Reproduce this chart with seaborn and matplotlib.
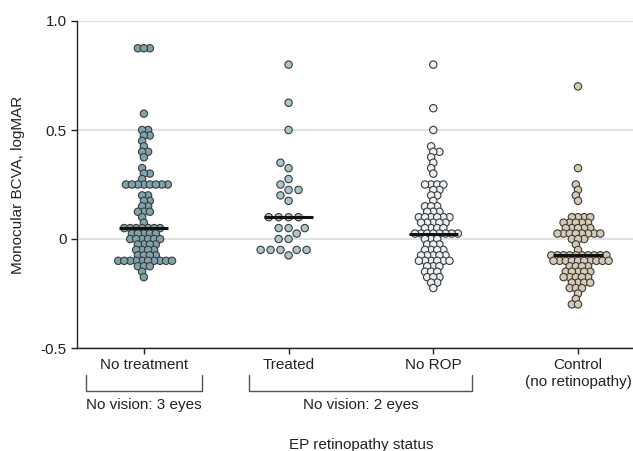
import matplotlib
matplotlib.use("Agg")
import matplotlib.pyplot as plt
import matplotlib.transforms as mtransforms
import seaborn as sns
import numpy as np
import pandas as pd

# ---------------- data ----------------
categories = ["No treatment", "Treated", "No ROP", "Control\n(no retinopathy)"]

no_treatment = [0.875, 0.875, 0.875, 0.575, 0.5, 0.5, 0.475, 0.475, 0.45, 0.425,
                0.4, 0.4, 0.375, 0.325, 0.3, 0.3, 0.275,
                0.25, 0.25, 0.25, 0.25, 0.25, 0.25, 0.25, 0.25,
                0.2, 0.2, 0.175, 0.175, 0.15, 0.15, 0.125, 0.125, 0.125, 0.1, 0.075,
                0.05, 0.05, 0.05, 0.05, 0.05, 0.05, 0.05,
                0.025, 0.025, 0.025, 0.025, 0.025,
                0.0, 0.0, 0.0, 0.0, 0.0, 0.0,
                -0.025, -0.025, -0.025, -0.025,
                -0.05, -0.05, -0.05, -0.05,
                -0.075, -0.075, -0.075, -0.075,
                -0.1, -0.1, -0.1, -0.1, -0.1, -0.1, -0.1, -0.1, -0.1, -0.1,
                -0.125, -0.125, -0.125, -0.15, -0.175]

treated = [0.8, 0.625, 0.5, 0.35, 0.325, 0.275, 0.25, 0.225, 0.225, 0.2, 0.175,
           0.1, 0.1, 0.1, 0.1, 0.05, 0.05, 0.05, 0.025, 0.0, 0.0,
           -0.05, -0.05, -0.05, -0.05, -0.05, -0.075]

no_rop = [0.8, 0.6, 0.5, 0.425, 0.4, 0.4, 0.375, 0.35, 0.325, 0.3,
          0.25, 0.25, 0.25, 0.25, 0.225, 0.225, 0.2, 0.2, 0.175,
          0.15, 0.15, 0.15, 0.125, 0.125, 0.125,
          0.1, 0.1, 0.1, 0.1, 0.1, 0.1,
          0.075, 0.075, 0.075, 0.075, 0.075,
          0.05, 0.05, 0.05, 0.05,
          0.025, 0.025, 0.025, 0.025, 0.025, 0.025, 0.025, 0.025,
          0.0, 0.0, 0.0, -0.025, -0.025, -0.025,
          -0.05, -0.05, -0.05, -0.05,
          -0.075, -0.075, -0.075, -0.075, -0.075,
          -0.1, -0.1, -0.1, -0.1, -0.1, -0.1,
          -0.125, -0.125, -0.125, -0.15, -0.15, -0.15,
          -0.175, -0.175, -0.175, -0.2, -0.2, -0.225]

control = [0.7, 0.325, 0.25, 0.225, 0.2, 0.175,
           0.1, 0.1, 0.1, 0.1, 0.075, 0.075, 0.075, 0.075, 0.075,
           0.05, 0.05, 0.05, 0.05, 0.05,
           0.025, 0.025, 0.025, 0.025, 0.025, 0.025, 0.025, 0.025,
           0.0, 0.0, 0.0, -0.025, -0.05,
           -0.075, -0.075, -0.075, -0.075, -0.075, -0.075, -0.075, -0.075, -0.075, -0.075,
           -0.1, -0.1, -0.1, -0.1, -0.1, -0.1, -0.1, -0.1, -0.1, -0.1,
           -0.125, -0.125, -0.125, -0.125,
           -0.15, -0.15, -0.15, -0.15, -0.15,
           -0.175, -0.175, -0.175, -0.175, -0.175,
           -0.2, -0.2, -0.2, -0.2, -0.225, -0.225, -0.225,
           -0.25, -0.275, -0.3, -0.3]

groups = [no_treatment, treated, no_rop, control]
colors = ["#7fa3ad", "#aac5cf", "#eaf0f3", "#d6cab4"]

y_ticks = [-0.5, 0, 0.5, 1.0]
y_tick_labels = ["-0.5", "0", "0.5", "1.0"]

# ---------------- plotting ----------------
sns.set_style("white")
plt.rcParams["font.family"] = ["Liberation Sans", "DejaVu Sans"]

df = pd.DataFrame({
    "status": np.concatenate([[c] * len(g) for c, g in zip(categories, groups)]),
    "value": np.concatenate(groups),
})

fig = plt.figure(figsize=(6.33, 4.51), dpi=100)
ax = fig.add_axes([77 / 633, 1 - 348 / 451, 1 - 77 / 633, (348 - 21) / 451])

# swarm packing size per group (sparse Treated group is not overlapped in the original)
layout_sizes = [3.3, 6.0, 3.4, 3.4]
marker_size = 5.3
sns.swarmplot(data=df, x="status", y="value", order=categories, hue="status",
              hue_order=categories, palette=dict(zip(categories, colors)),
              size=3.0, edgecolor="#3a3a3a", linewidth=0.8, legend=False,
              ax=ax, zorder=2)

swarm_colls = [c for c in ax.collections if "draw" in c.__dict__]
for coll in swarm_colls:
    idx = int(round(float(np.mean(coll.get_offsets()[:, 0]))))
    coll.set_sizes([layout_sizes[idx] ** 2])

for i, g in enumerate(groups):
    ax.hlines(np.median(g), i - 0.17, i + 0.17, color="#111111", lw=2.2, zorder=4)

ax.set_xlim(-0.462, 3.38)
ax.set_ylim(-0.5, 1.0)
ax.set_yticks(y_ticks)
ax.set_yticklabels(y_tick_labels)
ax.set_xticks(range(len(categories)))
ax.set_xticklabels(categories)
ax.yaxis.grid(True, color="#dedede", lw=1.3)
ax.xaxis.grid(False)
ax.set_axisbelow(True)

for s in ["top", "right"]:
    ax.spines[s].set_visible(False)
for s in ["left", "bottom"]:
    ax.spines[s].set_color("#222222")
    ax.spines[s].set_linewidth(1.0)

ax.tick_params(axis="both", which="major", length=4, width=1, color="#222222",
               labelsize=11, labelcolor="#222222", pad=3.5, left=True, bottom=True)

ax.set_xlabel("")
ax.set_ylabel("Monocular BCVA, logMAR", fontsize=11, color="#222222")
ax.yaxis.set_label_coords(-0.094, 0.5)

fig.text(361 / 633, 1 - 445 / 451, "EP retinopathy status", ha="center", va="center",
         fontsize=11, color="#222222")

# brackets below the axis
trans = mtransforms.blended_transform_factory(ax.transData, ax.transAxes)
y_top, y_bot, y_txt = -0.083, -0.131, -0.174
for (x0, x1, label) in [(-0.40, 0.405, "No vision: 3 eyes"),
                        (0.728, 2.27, "No vision: 2 eyes")]:
    ax.plot([x0, x0, x1, x1], [y_top, y_bot, y_bot, y_top], color="#555555",
            lw=1.0, transform=trans, clip_on=False)
    ax.text((x0 + x1) / 2, y_txt, label, transform=trans, ha="center", va="center",
            fontsize=11, color="#222222")

# run the swarm layout once, freeze it, then give all markers the same drawn size
fig.canvas.draw()
for coll in swarm_colls:
    del coll.draw
    coll.set_sizes([marker_size ** 2])

fig.savefig("out.png", dpi=100)
